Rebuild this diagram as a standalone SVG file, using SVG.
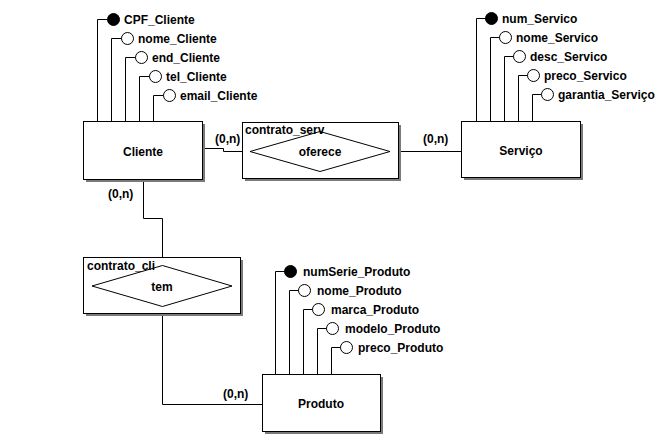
<svg xmlns="http://www.w3.org/2000/svg" width="664" height="436" viewBox="0 0 664 436">
<defs>
<style>
text{font-family:"Liberation Sans",Arial,sans-serif;font-weight:bold;font-size:12px;fill:#000}
.c{text-anchor:middle}
.box{fill:#fff;stroke:#000;stroke-width:1}
.sh{fill:#7a7a7a}
.ln{fill:none;stroke:#000;stroke-width:1}
.ao{fill:#fff;stroke:#000;stroke-width:1}
.af{fill:#000;stroke:#000;stroke-width:1}
</style>
</defs>
<rect width="664" height="436" fill="#fff"/>
<g id="connectors">
<path class="ln" d="M203,148.5 H223.5 V151.5 H250"/>
<path class="ln" d="M390,151.5 H461"/>
<path class="ln" d="M143.5,180 V218.5 H162.5 V265.5"/>
<path class="ln" d="M162.5,306 V404.5 H262"/>
<text x="215" y="143">(0,n)</text>
<text x="423" y="143">(0,n)</text>
<text x="108" y="198">(0,n)</text>
<text x="223" y="398">(0,n)</text>
</g>
<g id="cliente">
<path class="ln" d="M97.5,122 V19.5 H107 M111.5,122 V38.5 H122 M125.5,122 V57.5 H136 M139.5,122 V76.5 H150 M153.5,122 V95.5 H164"/>
<circle class="af" cx="113.5" cy="19.5" r="6"/>
<circle class="ao" cx="127.5" cy="38.5" r="6"/>
<circle class="ao" cx="141.5" cy="57.5" r="6"/>
<circle class="ao" cx="155.5" cy="76.5" r="6"/>
<circle class="ao" cx="169.5" cy="95.5" r="6"/>
<text x="124" y="24">CPF_Cliente</text>
<text x="138" y="43">nome_Cliente</text>
<text x="152" y="62">end_Cliente</text>
<text x="166" y="81">tel_Cliente</text>
<text x="180" y="100">email_Cliente</text>
<rect class="sh" x="86" y="124" width="119" height="58"/>
<rect class="box" x="83.5" y="121.5" width="119" height="58"/>
<text class="c" x="143" y="156">Cliente</text>
</g>
<g id="servico">
<path class="ln" d="M476.5,122 V18.5 H486 M490.5,122 V37.5 H500 M504.5,122 V56.5 H514 M518.5,122 V75.5 H528 M532.5,122 V94.5 H542"/>
<circle class="af" cx="491.5" cy="18.5" r="6"/>
<circle class="ao" cx="505.5" cy="37.5" r="6"/>
<circle class="ao" cx="519.5" cy="56.5" r="6"/>
<circle class="ao" cx="533.5" cy="75.5" r="6"/>
<circle class="ao" cx="547.5" cy="94.5" r="6"/>
<text x="502" y="23">num_Servico</text>
<text x="516" y="42">nome_Servico</text>
<text x="530" y="61">desc_Servico</text>
<text x="544" y="80">preco_Servico</text>
<text x="558" y="99">garantia_Serviço</text>
<rect class="sh" x="464" y="124" width="119" height="56"/>
<rect class="box" x="461.5" y="121.5" width="119" height="56"/>
<text class="c" x="521" y="155">Serviço</text>
</g>
<g id="contrato_serv">
<rect class="sh" x="245" y="125" width="156" height="56"/>
<rect class="box" x="242.5" y="122.5" width="156" height="56"/>
<text x="245" y="134">contrato_serv</text>
<polygon class="ln" points="250,151.5 320,131.5 390,151.5 320,171.5"/>
<text class="c" x="320" y="156">oferece</text>
</g>
<g id="contrato_cli">
<rect class="sh" x="86" y="260" width="157" height="56"/>
<rect class="box" x="83.5" y="257.5" width="157" height="56"/>
<text x="87" y="270">contrato_cli</text>
<polygon class="ln" points="92,286 162.5,265.5 232,286 162.5,306.5"/>
<text class="c" x="162" y="291">tem</text>
</g>
<g id="produto">
<path class="ln" d="M275.5,375 V271.5 H285 M289.5,375 V290.5 H299 M303.5,375 V309.5 H313 M317.5,375 V328.5 H327 M331.5,375 V347.5 H341"/>
<circle class="af" cx="290.5" cy="271.5" r="6"/>
<circle class="ao" cx="304.5" cy="290.5" r="6"/>
<circle class="ao" cx="318.5" cy="309.5" r="6"/>
<circle class="ao" cx="332.5" cy="328.5" r="6"/>
<circle class="ao" cx="346.5" cy="347.5" r="6"/>
<text x="303" y="276">numSerie_Produto</text>
<text x="317" y="295">nome_Produto</text>
<text x="331" y="314">marca_Produto</text>
<text x="345" y="333">modelo_Produto</text>
<text x="358" y="352">preco_Produto</text>
<rect class="sh" x="265" y="377" width="118" height="57"/>
<rect class="box" x="262.5" y="374.5" width="118" height="57"/>
<text class="c" x="321" y="408">Produto</text>
</g>
</svg>
